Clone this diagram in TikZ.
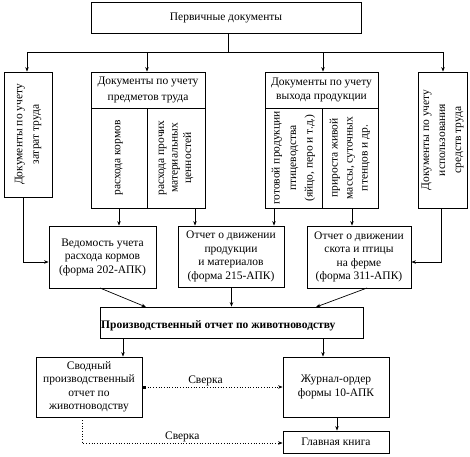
\documentclass[tikz,border=0pt]{standalone}
\usepackage{fontspec}
\setmainfont{Liberation Serif}
\usetikzlibrary{arrows.meta}
\begin{document}
\begin{tikzpicture}[x=1pt,y=-1pt,
  txt/.style={font=\fontsize{11.5}{13.5}\selectfont},
  wide/.style={font=\fontsize{11.5}{16.5}\selectfont},
  box/.style={draw,line width=0.8pt,rectangle,inner sep=1pt,align=center,txt},
  vbox/.style={box,rotate=90},
  conn/.style={line width=0.7pt,-{Stealth[length=4.5pt,width=3.5pt]}},
  plain/.style={line width=0.7pt},
  dotc/.style={line width=0.7pt,dotted},
  lbl/.style={txt,inner sep=1pt}]
\useasboundingbox (0,0) rectangle (470,456);
\fill[white] (0,0) rectangle (470,456);
% top
\node[box,minimum width=270pt,minimum height=31pt] (top) at (226,18) {Первичные документы};
% level 1
\node[vbox,wide,minimum width=125pt,minimum height=48pt] (b1) at (28,134.5) {Документы по учету\\затрат труда};
\node[box,wide,minimum width=114pt,minimum height=36pt] (b2h) at (148,90) {Документы по учету\\предметов труда};
\node[vbox,minimum width=100pt,minimum height=56pt] (b2a) at (119,158) {расхода кормов};
\node[vbox,minimum width=100pt,minimum height=58pt] (b2b) at (176,158) {расхода прочих\\материальных\\ценностей};
\node[box,minimum width=113pt,minimum height=36pt] (b3h) at (321.5,90) {Документы по учету\\выхода продукции};
\node[vbox,wide,minimum width=100pt,minimum height=57pt] (b3a) at (293.5,158) {готовой продукции\\птицеводства\\(яйцо, перо и т.д.)};
\node[vbox,font=\fontsize{11.5}{15}\selectfont,minimum width=100pt,minimum height=56pt] (b3b) at (350,158) {прироста живой\\массы, суточных\\птенцов и др.};
\node[vbox,font=\fontsize{11.5}{16}\selectfont,minimum width=136pt,minimum height=49pt] (b4) at (442.5,140) {Документы по учету\\использования\\средств труда};
% level 2
\node[box,minimum width=107pt,minimum height=62pt] (fa) at (102.5,257) {Ведомость учета\\расхода кормов\\(форма 202-АПК)};
\node[box,minimum width=106pt,minimum height=61pt] (fb) at (231,256.5) {Отчет о движении\\продукции\\и материалов\\(форма 215-АПК)};
\node[box,minimum width=104pt,minimum height=62pt] (fc) at (359,257) {Отчет о движении\\скота и птицы\\на ферме\\(форма 311-АПК)};
% production report
\node[draw,line width=0.8pt,minimum width=263pt,minimum height=31pt] (pr) at (231.5,322.5) {};
\node[font=\fontsize{11.5}{13.5}\selectfont\bfseries,anchor=west,inner sep=0pt] (prt) at (101,326) {Производственный отчет по животноводству};
% level 3
\node[box,minimum width=106pt,minimum height=60pt] (sv) at (89,387) {Сводный\\производственный\\отчет по\\животноводству};
\node[box,minimum width=106pt,minimum height=60pt] (jo) at (336,387) {Журнал-ордер\\формы 10-АПК};
\node[box,minimum width=106pt,minimum height=22pt] (gk) at (336,442) {Главная книга};
% coordinates
\coordinate (hub) at (228,52);
\coordinate (c1) at (27,52);
\coordinate (c2) at (147,52);
\coordinate (c3) at (323,52);
\coordinate (c4) at (443,52);
\coordinate (k1) at (119,208);
\coordinate (k2) at (195,208);
\coordinate (k3) at (274,208);
\coordinate (k4) at (352,208);
\coordinate (l0) at (23,197);
\coordinate (l1) at (23,262);
\coordinate (r0) at (441,208);
\coordinate (r1) at (441,262);
\coordinate (fa0) at (100,288);
\coordinate (fc0) at (367,288);
\coordinate (pa) at (146,307);
\coordinate (pc) at (316,307);
\coordinate (p1) at (123,338);
\coordinate (p2) at (323,338);
\coordinate (j1) at (337,417);
\coordinate (dv) at (82,443);
% connectors top
\draw[plain] (top.south -| hub) -- (hub);
\draw[plain] (c1) -- (c4);
\draw[conn] (c1) -- (c1 |- b1.east);
\draw[conn] (c2) -- (c2 |- b2h.north);
\draw[conn] (c3) -- (c3 |- b3h.north);
\draw[conn] (c4) -- (c4 |- b4.east);
% to level 2
\draw[conn] (k1) -- (k1 |- fa.north);
\draw[conn] (k2) -- (k2 |- fb.north);
\draw[conn] (k3) -- (k3 |- fb.north);
\draw[conn] (k4) -- (k4 |- fc.north);
\draw[conn] (l0) -- (l1) -- (l1 -| fa.west);
\draw[conn] (r0) -- (r1) -- (r1 -| fc.east);
% to production report
\draw[conn] (fa0) -- (pa);
\draw[conn] (fb.south -| pr.north) -- (pr.north);
\draw[conn] (fc0) -- (pc);
% from production report
\draw[conn] (p1) -- (p1 |- sv.north);
\draw[conn] (p2) -- (p2 |- jo.north);
% level 3 links
\draw[dotc,{Square[length=3pt,width=3pt]}-{Stealth[length=4.5pt,width=3.5pt]}] (sv.east) -- node[lbl,above,pos=0.45] (s1) {Сверка} (jo.west);
\draw[conn] (j1) -- (j1 |- gk.north);
\draw[dotc,-{Stealth[length=4.5pt,width=3.5pt]}] (sv.south -| dv) -- (dv) -- node[lbl,above,pos=0.5] (s2) {Сверка} (dv -| gk.west);
\end{tikzpicture}
\end{document}
